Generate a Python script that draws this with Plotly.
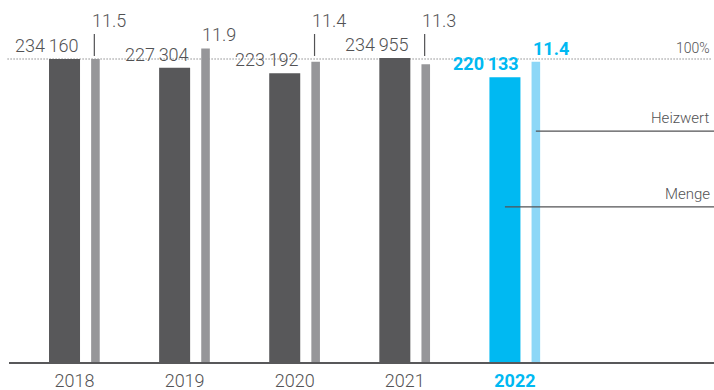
import numpy as np
import plotly.graph_objects as go

# ---- data ----
years = ["2018", "2019", "2020", "2021", "2022"]
menge = [234160, 227304, 223192, 234955, 220133]
heizwert = [11.5, 11.9, 11.4, 11.3, 11.4]
menge_labels = ["234\u2009160", "227\u2009304", "223\u2009192", "234\u2009955", "220\u2009133"]
heizwert_labels = ["11.5", "11.9", "11.4", "11.3", "11.4"]
lifted = [True, False, True, True, False]   # labels moved up with leader line
highlight = [False, False, False, False, True]

# ---- styles ----
DARK = "#58585a"
LIGHT = "#969699"
BLUE = "#00b9f2"
LBLUE = "#8dd7f7"
TEXT = "#525254"
FONT = "Roboto"
WT = 300

idx = np.arange(len(years))
dark_off, dark_w = -0.0908, 0.2816
light_off, light_w = 0.19, 0.078

menge_pct = [m / menge[0] * 100 for m in menge]
heiz_pct = [h / heizwert[0] * 100 for h in heizwert]

x0, x1 = -0.595, 5.808
y_top = 119.47
lift_top, lift_bot = 108.25, 101.0
heiz_line_y, menge_line_y = 76.2, 51.2

fig = go.Figure()
fig.add_trace(go.Bar(
    x=idx + dark_off, y=menge_pct, width=dark_w,
    marker=dict(color=[BLUE if h else DARK for h in highlight], line=dict(width=0)),
    hoverinfo="skip", showlegend=False))
fig.add_trace(go.Bar(
    x=idx + light_off, y=heiz_pct, width=light_w,
    marker=dict(color=[LBLUE if h else LIGHT for h in highlight], line=dict(width=0)),
    hoverinfo="skip", showlegend=False))

ann = []
shapes = []
for i in range(len(years)):
    col = BLUE if highlight[i] else TEXT
    wt = 700 if highlight[i] else WT
    ann.append(dict(x=idx[i] + dark_off + dark_w / 2, y=menge_pct[i], xref="x", yref="y",
                    text=menge_labels[i], showarrow=False, xanchor="right", yanchor="bottom",
                    xshift=1, yshift=1,
                    font=dict(family=FONT, size=18, color=col, weight=wt)))
    hy = lift_top if lifted[i] else heiz_pct[i]
    ann.append(dict(x=idx[i] + light_off - light_w / 2, y=hy, xref="x", yref="y",
                    text=heizwert_labels[i], showarrow=False, xanchor="left", yanchor="bottom",
                    xshift=-1, yshift=1,
                    font=dict(family=FONT, size=18, color=col, weight=wt)))
    if lifted[i]:
        shapes.append(dict(type="line", xref="x", yref="y",
                           x0=idx[i] + light_off - 0.01, x1=idx[i] + light_off - 0.01,
                           y0=lift_bot, y1=lift_top,
                           line=dict(color=TEXT, width=1.2)))

# 100% reference line
shapes.append(dict(type="line", xref="paper", yref="y", x0=-0.002, x1=0.997, y0=100, y1=100,
                   line=dict(color=TEXT, width=1, dash="1px,2px"), layer="below"))
ann.append(dict(x=0.997, y=100, xref="paper", yref="y", text="100%", showarrow=False,
                xanchor="right", yanchor="bottom", yshift=1,
                font=dict(family=FONT, size=14, color=TEXT, weight=WT)))

# callout legend
last = len(years) - 1
shapes.append(dict(type="line", xref="x", yref="y", x0=idx[last] + light_off, x1=x1,
                   y0=heiz_line_y, y1=heiz_line_y, line=dict(color=TEXT, width=1.2)))
shapes.append(dict(type="line", xref="x", yref="y", x0=idx[last] + dark_off, x1=x1,
                   y0=menge_line_y, y1=menge_line_y, line=dict(color=TEXT, width=1.2)))
ann.append(dict(x=0.997, y=heiz_line_y, xref="paper", yref="y", text="Heizwert", showarrow=False,
                xanchor="right", yanchor="bottom", yshift=2,
                font=dict(family=FONT, size=15, color=TEXT, weight=WT)))
ann.append(dict(x=0.997, y=menge_line_y, xref="paper", yref="y", text="Menge", showarrow=False,
                xanchor="right", yanchor="bottom", yshift=2,
                font=dict(family=FONT, size=15, color=TEXT, weight=WT)))

ticktext = [f"<b><span style='color:{BLUE}'>{y}</span></b>" if h else y
            for y, h in zip(years, highlight)]

fig.update_layout(
    width=714, height=390,
    margin=dict(l=9, r=0, t=0, b=28, autoexpand=False),
    paper_bgcolor="white", plot_bgcolor="white",
    barmode="overlay",
    annotations=ann, shapes=shapes,
    xaxis=dict(range=[x0, x1], tickvals=list(idx), ticktext=ticktext,
               showgrid=False, zeroline=False, showline=True, linecolor=DARK, linewidth=1.5,
               ticks="", ticklabelstandoff=2, automargin=False,
               tickfont=dict(family=FONT, size=18, color=TEXT, weight=WT),
               fixedrange=True),
    yaxis=dict(range=[0, y_top], visible=False, showgrid=False, zeroline=False, fixedrange=True),
)

fig.write_html("out.html", config={"displayModeBar": False},
               post_script="document.body.style.margin='0';document.body.style.overflow='hidden';")
